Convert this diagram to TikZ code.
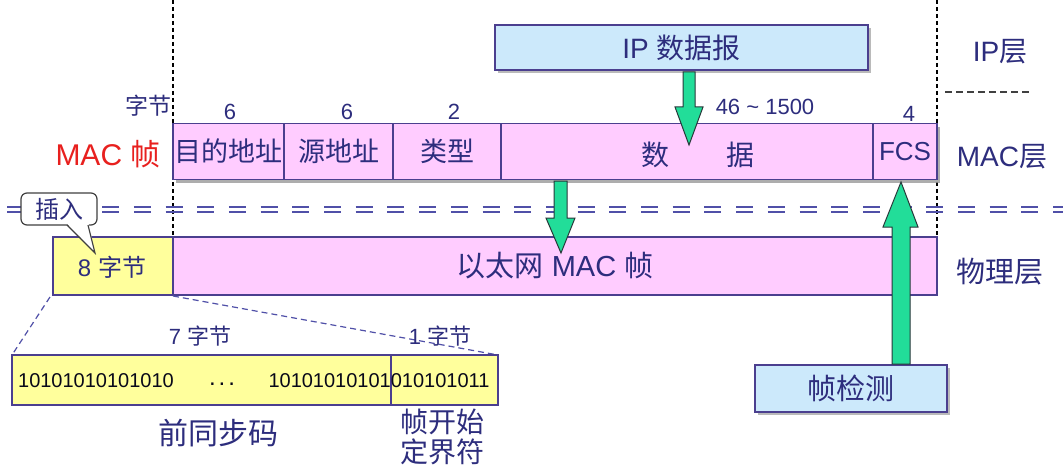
\documentclass[tikz,border=0pt]{standalone}
\usepackage{fontspec}
\setmainfont{Liberation Sans}
\newfontfamily\cjk{Noto Sans CJK SC}
\usetikzlibrary{shadows}
\definecolor{navy}{HTML}{2D2D7D}
\definecolor{bord}{HTML}{4B3F8F}
\definecolor{pinkf}{HTML}{FFCCFF}
\definecolor{yelf}{HTML}{FFFF9C}
\definecolor{bluef}{HTML}{CCE9FB}
\definecolor{mint}{HTML}{22DD99}
\definecolor{macred}{HTML}{E8201E}
\definecolor{dashc}{HTML}{5050A8}
\definecolor{arrowb}{HTML}{28383A}
\newcommand\fs[1]{\fontsize{#1}{#1}\selectfont}
\begin{document}
\begin{tikzpicture}[x=1pt,y=-1pt,
  cell/.style={draw=bord,line width=1.3pt,inner sep=0pt,text=navy},
  lbl/.style={inner sep=0pt,text=navy},
  shad/.style={drop shadow={shadow xshift=3pt,shadow yshift=-3pt,opacity=0.45,fill=black!60}},
  fat/.style={fill=mint,draw=arrowb,line width=1pt,line join=miter},
  vdash/.style={black,line width=1.1pt,dash pattern=on 4pt off 3pt},
  ddash/.style={dashc,line width=1.4pt,dash pattern=on 17pt off 14.7pt},
  trap/.style={dashc,line width=1.2pt,dash pattern=on 6pt off 4pt}]
\useasboundingbox (0,0) rectangle (1063,476);
\fill[white] (0,0) rectangle (1063,476);

% vertical dashed lines
\draw[vdash] (173,0) coordinate (vl1) -- (173,237) coordinate (vl1b);
\draw[vdash] (937,0) coordinate (vl2) -- (937,237) coordinate (vl2b);
% short dashed line near IP layer
\draw[black!75,line width=1.2pt,dash pattern=on 7pt off 4pt] (945,92) coordinate (sd1) -- (1030,92) coordinate (sd2);

% double dashed line
\draw[ddash] (-24.7,207) coordinate (dd1) -- (1063,207) coordinate (dd2);
\draw[ddash] (-24.7,212) coordinate (dd3) -- (1063,212) coordinate (dd4);

% IP datagram
\node[cell,fill=bluef,shad,minimum width=373pt,minimum height=45pt] (ip) at (681.5,47.5) {\fs{28}IP {\cjk 数据报}};
\node[lbl] (iplayer) at (1000,52) {\fs{28}IP{\cjk 层}};

% MAC row shadow
\fill[black!40,opacity=0.8] (176,127) rectangle (940,182.5);
\node[cell,fill=pinkf,minimum width=111pt,minimum height=56pt] (dst) at (228.5,151.5) {\fs{27}\cjk 目的地址};
\node[cell,fill=pinkf,minimum width=109pt,minimum height=56pt] (src) at (338.5,151.5) {\fs{27}\cjk 源地址};
\node[cell,fill=pinkf,minimum width=108pt,minimum height=56pt] (typ) at (447,151.5) {\fs{27}\cjk 类型};
\node[cell,fill=pinkf,minimum width=372pt,minimum height=56pt] (dat) at (687,151.5) {};
\node[lbl] (dattxt) at (698,155) {\fs{28}\cjk 数\hspace{58pt}据};
\node[cell,fill=pinkf,minimum width=64pt,minimum height=56pt] (fcs) at (905,151.5) {\fs{26}FCS};

\node[lbl,text=macred] (macf) at (108,154) {\fs{30}MAC {\cjk 帧}};
\node[lbl] (maclayer) at (1002,157) {\fs{28}MAC{\cjk 层}};

% byte counts
\node[lbl] (zj) at (148,106) {\fs{23}\cjk 字节};
\node[lbl] (n1) at (230,112) {\fs{22}6};
\node[lbl] (n2) at (347,112) {\fs{22}6};
\node[lbl] (n3) at (454,112) {\fs{22}2};
\node[lbl] (n4) at (765,107) {\fs{22}46 \char`\~\ 1500};
\node[lbl] (n5) at (909,114) {\fs{22}4};

% physical row
\node[cell,fill=yelf,line width=1.1pt,minimum width=120pt,minimum height=58pt] (pre) at (113,266) {};
\node[lbl] (pretxt) at (112,267) {\fs{24}8 {\cjk 字节}};
\node[cell,fill=pinkf,line width=1.1pt,minimum width=764pt,minimum height=58pt] (eth) at (555,266) {\fs{29}{\cjk 以太网} MAC {\cjk 帧}};
\node[lbl] (phys) at (1000,272) {\fs{29}\cjk 物理层};

% callout 插入
\node[draw=black!75,fill=white,line width=1.2pt,rounded corners=6pt,minimum width=76pt,minimum height=32pt,inner sep=0pt,text=navy] (ins) at (59,209) {\fs{24}\cjk 插入};
\coordinate (tip) at (95,253);
\fill[white] (66.5,223) -- (tip) -- (88.5,223) -- cycle;
\draw[black!75,line width=1.2pt,line join=miter] (67,225) -- (tip) -- (88,225);

% trapezoid dashed lines
\coordinate (t1) at (50,297);
\coordinate (t2) at (173,296);
\draw[trap] (t1) -- (12,355);
\draw[trap] (t2) -- (498,355);

% preamble boxes
\node[cell,fill=yelf,line width=1.1pt,minimum width=379pt,minimum height=50pt] (sync) at (201.5,380) {};
\node[cell,fill=yelf,line width=1.1pt,minimum width=107pt,minimum height=50pt] (sfd) at (444.5,380) {};
\node[lbl,text=black!80!navy] (b1) at (96,381) {\fs{20}10101010101010};
\node[lbl,text=black!80!navy] (dots) at (222,384) {\fs{24}.\hspace{3pt}.\hspace{3pt}.};
\node[lbl,text=black!80!navy] (b2) at (379,381) {\fs{20}10101010101010101011};
\node[lbl] (s7) at (200,336) {\fs{22}7 {\cjk 字节}};
\node[lbl] (s1) at (440,336) {\fs{22}1 {\cjk 字节}};
\node[lbl] (qtb) at (218,433) {\fs{30}\cjk 前同步码};
\node[lbl] (sfdtxt1) at (442,422) {\fs{28}\cjk 帧开始};
\node[lbl] (sfdtxt2) at (442,452) {\fs{28}\cjk 定界符};

% frame check box
\node[cell,fill=bluef,shad,minimum width=192pt,minimum height=47pt] (chk) at (851,388.5) {\fs{29}\cjk 帧检测};

% fat arrows
\draw[fat] (683,72) -- (695,72) -- (695,107) -- (703,107) -- (689,145) -- (675,107) -- (683,107) -- cycle;
\draw[fat] (554,181) -- (567,181) -- (567,218) -- (575,218) -- (561,253) -- (546,218) -- (554,218) -- cycle;
\draw[fat] (892,364) -- (910,364) -- (910,227) -- (918,227) -- (901,182) -- (883,227) -- (892,227) -- cycle;
\end{tikzpicture}
\end{document}
